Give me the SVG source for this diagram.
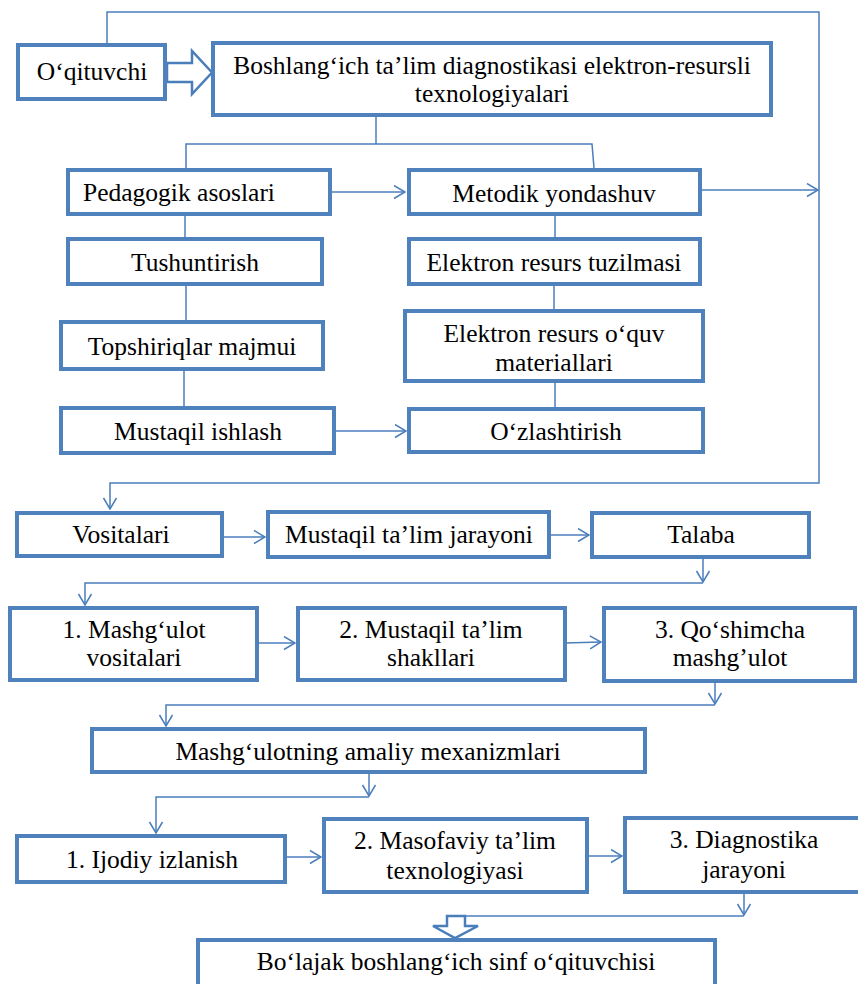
<svg xmlns="http://www.w3.org/2000/svg" width="858" height="984" viewBox="0 0 858 984">
<style>
.box{fill:#fff;stroke:#4F81BD;stroke-width:4}
text{font-family:'Liberation Serif','Tinos','Times New Roman','DejaVu Serif',serif;font-size:25.5px;fill:#000;text-anchor:middle}
.c{fill:none;stroke:#4A7EBB;stroke-width:1.5}
.blk{fill:#fff;stroke:#4A7EBB;stroke-width:2.5;stroke-linejoin:miter}
</style>
<defs>
<marker id="ar" viewBox="0 0 13 15" refX="12" refY="7.5" markerWidth="13" markerHeight="15" markerUnits="userSpaceOnUse" orient="auto">
<path d="M1,1 L12,7.5 L1,14" fill="none" stroke="#4A7EBB" stroke-width="1.5"/>
</marker>
</defs>
<rect width="858" height="984" fill="#fff"/>
<g id="connectors">
<path class="c" d="M107,43 V12 H819 V483 H110 V509" marker-end="url(#ar)"/>
<path class="c" d="M376,115 V144"/>
<path class="c" d="M186,168 V144 H592 L594,168"/>
<path class="c" d="M330,192 H405" marker-end="url(#ar)"/>
<path class="c" d="M185,214 V239"/>
<path class="c" d="M186,284 V322"/>
<path class="c" d="M184,369 V408"/>
<path class="c" d="M334,431 H406" marker-end="url(#ar)"/>
<path class="c" d="M700,190 H818" marker-end="url(#ar)"/>
<path class="c" d="M555,214 V239"/>
<path class="c" d="M554,284 V311"/>
<path class="c" d="M555,381 V409"/>
<path class="c" d="M222,537 H265" marker-end="url(#ar)"/>
<path class="c" d="M549,535 H589" marker-end="url(#ar)"/>
<path class="c" d="M703,557 V582" marker-end="url(#ar)"/>
<path class="c" d="M703,583 H85 V605" marker-end="url(#ar)"/>
<path class="c" d="M257,643 H295" marker-end="url(#ar)"/>
<path class="c" d="M565,643 L601,642" marker-end="url(#ar)"/>
<path class="c" d="M715,681 V704" marker-end="url(#ar)"/>
<path class="c" d="M715,705 H166 V726" marker-end="url(#ar)"/>
<path class="c" d="M369,772 V796" marker-end="url(#ar)"/>
<path class="c" d="M369,797 H156 V833" marker-end="url(#ar)"/>
<path class="c" d="M285,857 H321" marker-end="url(#ar)"/>
<path class="c" d="M587,856 H622" marker-end="url(#ar)"/>
<path class="c" d="M744,892 V915" marker-end="url(#ar)"/>
<path class="c" d="M744,916 H465"/>
<polygon class="blk" points="167,63 192,63 192,51 212,72.5 192,94 192,82 167,82"/>
<polygon class="blk" points="447,916 465,916 465,926 478,926 455,938 433,926 447,926"/>
</g>
<g id="oqituvchi"><rect class="box" x="18" y="45" width="147" height="54"/><text x="92" y="80">O‘qituvchi</text></g>
<g id="main"><rect class="box" x="213" y="43" width="558" height="72"/><text x="492" y="74">Boshlang‘ich ta’lim diagnostikasi elektron-resursli</text><text x="492" y="102">texnologiyalari</text></g>
<g id="pedagogik"><rect class="box" x="68" y="170" width="262" height="44"/><text x="179" y="201">Pedagogik asoslari</text></g>
<g id="tushuntirish"><rect class="box" x="68" y="239" width="254" height="45"/><text x="195" y="271">Tushuntirish</text></g>
<g id="topshiriqlar"><rect class="box" x="61" y="322" width="262" height="47"/><text x="192" y="355">Topshiriqlar majmui</text></g>
<g id="mustaqil-ishlash"><rect class="box" x="61" y="408" width="273" height="45"/><text x="198" y="440">Mustaqil ishlash</text></g>
<g id="metodik"><rect class="box" x="409" y="170" width="291" height="44"/><text x="554" y="202">Metodik yondashuv</text></g>
<g id="tuzilmasi"><rect class="box" x="409" y="239" width="291" height="45"/><text x="554" y="271">Elektron resurs tuzilmasi</text></g>
<g id="materiallari"><rect class="box" x="405" y="311" width="298" height="70"/><text x="554" y="342">Elektron resurs o‘quv</text><text x="554" y="371">materiallari</text></g>
<g id="ozlashtirish"><rect class="box" x="409" y="409" width="294" height="43"/><text x="556" y="440">O‘zlashtirish</text></g>
<g id="vositalari"><rect class="box" x="17" y="513" width="205" height="43"/><text x="121" y="543">Vositalari</text></g>
<g id="jarayoni"><rect class="box" x="268" y="512" width="281" height="45"/><text x="409" y="543">Mustaqil ta’lim jarayoni</text></g>
<g id="talaba"><rect class="box" x="592" y="513" width="217" height="44"/><text x="701" y="543">Talaba</text></g>
<g id="m1"><rect class="box" x="10" y="608" width="247" height="72"/><text x="134" y="638">1. Mashg‘ulot</text><text x="134" y="666">vositalari</text></g>
<g id="m2"><rect class="box" x="298" y="608" width="267" height="72"/><text x="431" y="638">2. Mustaqil ta’lim</text><text x="431" y="666">shakllari</text></g>
<g id="m3"><rect class="box" x="604" y="608" width="251" height="73"/><text x="730" y="638">3. Qo‘shimcha</text><text x="730" y="666">mashg’ulot</text></g>
<g id="mexanizmlari"><rect class="box" x="92" y="729" width="553" height="43"/><text x="368" y="760">Mashg‘ulotning amaliy mexanizmlari</text></g>
<g id="i1"><rect class="box" x="17" y="836" width="268" height="46"/><text x="152" y="868">1. Ijodiy izlanish</text></g>
<g id="i2"><rect class="box" x="324" y="819" width="263" height="73"/><text x="455" y="849">2. Masofaviy ta’lim</text><text x="455" y="879">texnologiyasi</text></g>
<g id="i3"><rect class="box" x="625" y="818" width="240" height="74"/><text x="744" y="848">3. Diagnostika</text><text x="744" y="878">jarayoni</text></g>
<g id="bolajak"><rect class="box" x="198" y="940" width="517" height="60"/><text x="456" y="970">Bo‘lajak boshlang‘ich sinf o‘qituvchisi</text></g>
</svg>
